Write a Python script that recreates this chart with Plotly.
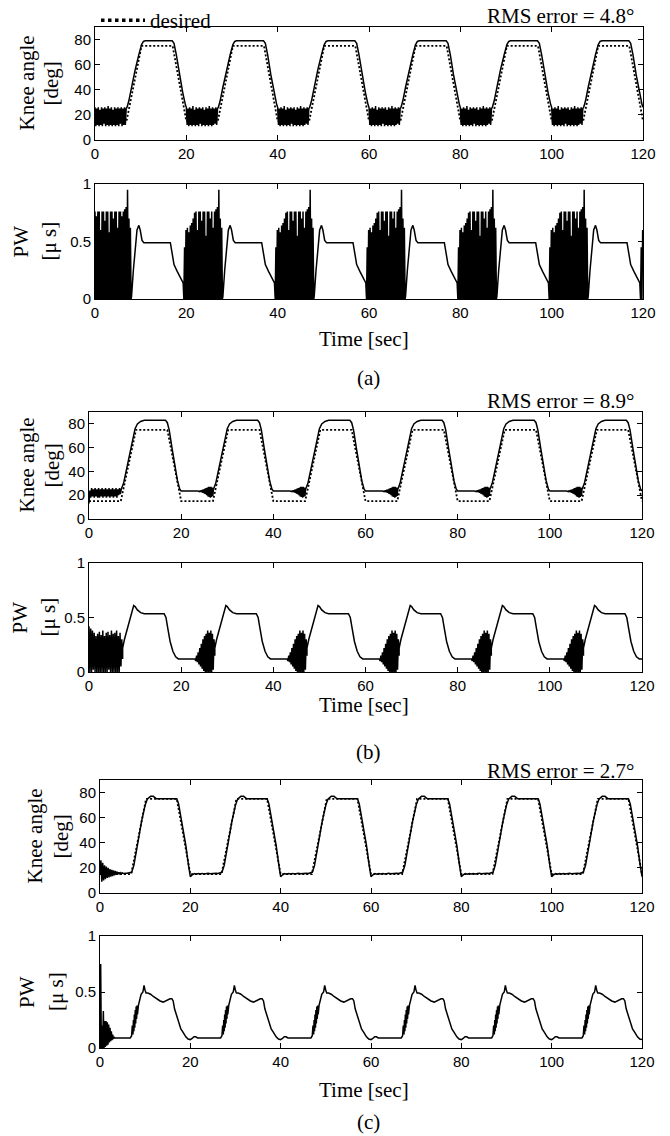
import numpy as np
import plotly.graph_objects as go

W, H = 670, 1136
PERIOD = 20.0
N_CYCLES = 6
T_END = 120.0

x_ticks = [0, 20, 40, 60, 80, 100, 120]
knee_ticks = [0, 20, 40, 60, 80]
pw_ticks = [0, 0.5, 1]
pw_ticktext = ["0", "0.5", "1"]

# ---- desired knee trajectory (one 20 s cycle, same in all three experiments)
desired_t = [0.0, 6.9, 10.2, 17.0, 20.0]
desired_v = [15, 15, 75, 75, 15]

# ---- (a) knee angle
a_knee_first_span = (0.0, 7.0)
a_knee_first = [26, 11, 25, 12, 26, 11, 24, 12, 26, 11, 25, 13, 26, 11, 25, 12, 27, 11, 25, 12,
                26, 11, 24, 12, 26, 11, 25, 12, 26, 11, 25, 13, 26, 11, 25, 12, 26, 12, 25, 26]
a_knee_rest_span = (0.0, 7.0)
a_knee_rest = [26, 12, 25, 11, 26, 12, 25, 11, 27, 12, 24, 11, 26, 12, 25, 11, 26, 13, 25, 11,
               26, 12, 24, 11, 26, 12, 25, 11, 27, 12, 25, 11, 26, 12, 25, 13, 26, 12, 25, 26]
a_knee_swing_t = [7.0, 7.4, 8.0, 8.8, 9.6, 10.2, 10.6, 11.0, 16.9, 17.3, 17.8, 18.5, 19.2, 19.8, 20.0]
a_knee_swing_v = [26, 31, 42, 56, 68, 76, 78.5, 79, 79, 77, 68, 52, 38, 28, 26]

# ---- (a) pulse width
a_pw_first_span = (0.0, 7.9)
a_pw_first = [0.76, 0.0, 0.72, 0.0, 0.76, 0.0, 0.76, 0.0, 0.6, 0.0, 0.76, 0.0, 0.76, 0.0, 0.68, 0.0,
              0.76, 0.0, 0.76, 0.0, 0.58, 0.0, 0.76, 0.0, 0.76, 0.0, 0.7, 0.0, 0.76, 0.0, 0.76, 0.0,
              0.62, 0.0, 0.76, 0.0, 0.76, 0.0, 0.72, 0.0, 0.76, 0.0, 0.78, 0.0, 0.8, 0.0, 0.95, 0.0,
              0.7, 0.0, 0.62, 0.0]
a_pw_rest_span = (-0.7, 7.9)
a_pw_rest = [0.14, 0.0, 0.45, 0.0, 0.6, 0.0, 0.62, 0.0, 0.58, 0.0, 0.64, 0.0, 0.66, 0.0, 0.7, 0.0,
             0.75, 0.0, 0.76, 0.0, 0.6, 0.0, 0.76, 0.0, 0.76, 0.0, 0.68, 0.0, 0.76, 0.0, 0.76, 0.0,
             0.55, 0.0, 0.76, 0.0, 0.76, 0.0, 0.7, 0.0, 0.76, 0.0, 0.62, 0.0, 0.76, 0.0, 0.78, 0.0,
             0.8, 0.0, 0.95, 0.0, 0.7, 0.0, 0.62, 0.0]
a_pw_swing_t = [8.0, 8.4, 8.8, 9.2, 9.6, 9.9, 10.3, 10.7, 16.5, 16.9, 17.3, 18.0, 18.75, 19.3]
a_pw_swing_v = [0.02, 0.25, 0.46, 0.6, 0.64, 0.6, 0.51, 0.49, 0.49, 0.40, 0.30, 0.24, 0.18, 0.14]

# ---- (b) knee angle
b_knee_first_span = (0.0, 7.0)
b_knee_first = [13, 24, 18, 26, 19, 25, 18, 26, 19, 25, 18, 26, 18, 25, 19, 26, 18, 25, 19, 26,
                18, 25, 19, 26, 18, 25, 19, 26, 18, 25, 19, 26, 18, 25, 20, 26, 21, 25]
b_knee_rest_span = (3.6, 7.0)
b_knee_rest = [23.5, 23.3, 23.7, 23.1, 23.9, 22.8, 24.2, 22.4, 24.6, 22.0, 25.0, 21.4, 25.6, 20.8,
               26.0, 20.0, 26.5, 19.0, 27.0, 18.5, 27.0, 18.0, 27.0, 18.5, 26.5, 19.5, 25.5]
b_knee_swing_t = [7.0, 7.5, 8.3, 9.2, 10.0, 10.5, 11.2, 12.0, 16.6, 17.0, 17.4, 18.0, 18.6, 19.2, 19.7, 20.0]
b_knee_swing_v = [25, 30, 45, 62, 76, 80, 82, 83, 83, 81, 75, 60, 45, 32, 25, 23.5]

# ---- (b) pulse width
b_pw_first_span = (0.0, 7.3)
b_pw_first = [0.42, 0.0, 0.4, 0.0, 0.38, 0.02, 0.36, 0.0, 0.33, 0.0, 0.35, 0.0, 0.37, 0.0, 0.34, 0.0,
              0.38, 0.0, 0.33, 0.0, 0.36, 0.0, 0.37, 0.02, 0.34, 0.0, 0.38, 0.0, 0.35, 0.0, 0.36, 0.0,
              0.38, 0.0, 0.33, 0.0, 0.36, 0.05, 0.3, 0.12]
b_pw_rest_span = (3.0, 7.3)
b_pw_rest = [0.12, 0.1, 0.15, 0.09, 0.18, 0.07, 0.22, 0.05, 0.26, 0.03, 0.3, 0.01, 0.33, 0.0, 0.35,
             0.0, 0.38, 0.0, 0.36, 0.0, 0.38, 0.0, 0.35, 0.02, 0.3, 0.15]
b_pw_swing_t = [7.3, 7.7, 8.3, 8.9, 9.4, 9.7, 10.0, 10.5, 11.2, 12.0, 16.3, 16.7, 17.1, 17.6, 18.2, 18.8, 19.4, 20.0]
b_pw_swing_v = [0.22, 0.3, 0.4, 0.5, 0.58, 0.61, 0.6, 0.57, 0.545, 0.535, 0.535, 0.5, 0.4, 0.28, 0.19, 0.14, 0.12, 0.12]

# ---- (c) knee angle
c_knee_first_span = (0.0, 7.0)
c_knee_first = [15, 26, 9, 24, 10, 22, 11, 21, 12, 20, 12.5, 19, 13, 18.5, 13.5, 18, 14, 17.5, 14.5, 17,
                15, 16.5, 15.2, 16.2, 15.5, 16, 15.5, 15.8, 15.6, 15.8, 15.7, 15.8, 15.8, 16, 16, 16.2]
c_knee_rest_span = (0.0, 7.0)
c_knee_rest = [13, 14.5, 15.5, 15, 15.5, 15.2, 15.6, 15.1, 15.5, 15.8, 15.3, 15.6, 15.5, 15.8, 15.6, 16, 16.2]
c_knee_swing_t = [7.0, 7.5, 8.3, 9.2, 10.0, 10.5, 11.2, 11.8, 12.5, 17.0, 17.4, 18.2, 19.0, 19.6, 20.0]
c_knee_swing_v = [16.5, 22, 40, 57, 70, 75, 77, 77, 75, 75, 71, 55, 38, 22, 13]

# ---- (c) pulse width
c_pw_first_span = (0.0, 3.4)
c_pw_first = [0.0, 0.75, 0.0, 0.2, 0.0, 0.33, 0.0, 0.24, 0.01, 0.24, 0.02, 0.23, 0.03, 0.21, 0.05,
              0.18, 0.06, 0.15, 0.07, 0.12, 0.08, 0.1, 0.09, 0.09]
c_pw_rest_span = (0.0, 1.6)
c_pw_rest = [0.075, 0.085, 0.1, 0.1, 0.09]
c_pw_swing_t = [6.7, 7.0, 7.15, 7.3, 7.4, 7.5, 7.6, 7.7, 7.8, 7.9, 8.0, 8.1, 8.2, 8.3, 8.5, 8.8, 9.1,
                9.5, 9.75, 9.95, 10.2, 10.6, 11.2, 11.8, 12.5, 13.3, 14.0, 14.8, 15.5, 15.9, 16.2,
                16.5, 16.9, 17.4, 17.9, 18.4, 19.0, 19.5, 20.0]
c_pw_swing_v = [0.09, 0.11, 0.2, 0.12, 0.25, 0.15, 0.3, 0.18, 0.34, 0.22, 0.37, 0.26, 0.38, 0.3, 0.38,
                0.42, 0.48, 0.5, 0.56, 0.52, 0.49, 0.49, 0.48, 0.46, 0.44, 0.42, 0.41, 0.43, 0.44,
                0.44, 0.42, 0.35, 0.3, 0.22, 0.17, 0.14, 0.1, 0.08, 0.075]

rms_labels = ["RMS error = 4.8°", "RMS error = 8.9°", "RMS error = 2.7°"]
panel_labels = ["(a)", "(b)", "(c)"]


def build(first_span, first, rest_span, rest, swing_t, swing_v):
    ts, vs = [], []
    for k in range(N_CYCLES + 1):
        off = k * PERIOD
        span, vals = (first_span, first) if k == 0 else (rest_span, rest)
        ts.extend(np.linspace(span[0], span[1], len(vals)) + off)
        vs.extend(vals)
        if k < N_CYCLES:
            ts.extend(np.array(swing_t) + off)
            vs.extend(swing_v)
    ts, vs = np.array(ts), np.array(vs, dtype=float)
    keep = ts <= T_END + 1e-9
    return ts[keep], vs[keep]


def build_desired():
    ts, vs = [], []
    for k in range(N_CYCLES):
        ts.extend(np.array(desired_t) + k * PERIOD)
        vs.extend(desired_v)
    return ts, vs


series = [
    build(a_knee_first_span, a_knee_first, a_knee_rest_span, a_knee_rest, a_knee_swing_t, a_knee_swing_v),
    build(a_pw_first_span, a_pw_first, a_pw_rest_span, a_pw_rest, a_pw_swing_t, a_pw_swing_v),
    build(b_knee_first_span, b_knee_first, b_knee_rest_span, b_knee_rest, b_knee_swing_t, b_knee_swing_v),
    build(b_pw_first_span, b_pw_first, b_pw_rest_span, b_pw_rest, b_pw_swing_t, b_pw_swing_v),
    build(c_knee_first_span, c_knee_first, c_knee_rest_span, c_knee_rest, c_knee_swing_t, c_knee_swing_v),
    build(c_pw_first_span, c_pw_first, c_pw_rest_span, c_pw_rest, c_pw_swing_t, c_pw_swing_v),
]

# layout geometry in pixels: (left, right, top, bottom)
boxes = [
    (95, 643, 27, 140), (95, 643, 184, 299),
    (89, 642, 412, 519), (89, 642, 563, 672),
    (100, 642, 780, 893), (100, 642, 936, 1048),
]

SERIF = "Liberation Serif, Times New Roman, serif"
SANS = "Liberation Sans, Arial, sans-serif"

fig = go.Figure()
dtx, dty = build_desired()
for i, (ts, vs) in enumerate(series):
    ax = "" if i == 0 else str(i + 1)
    if i % 2 == 0:
        fig.add_trace(go.Scatter(x=dtx, y=dty, mode="lines", xaxis="x" + ax, yaxis="y" + ax,
                                 line=dict(color="black", width=1.8, dash="2px,2px"),
                                 showlegend=False, hoverinfo="skip"))
    fig.add_trace(go.Scatter(x=ts, y=vs, mode="lines", xaxis="x" + ax, yaxis="y" + ax,
                             line=dict(color="black", width=1.5), showlegend=False))

# legend entry for the desired trajectory
fig.add_trace(go.Scatter(x=[None], y=[None], mode="lines", name="desired",
                         line=dict(color="black", width=3.5, dash="dot"), showlegend=True))

layout = dict(width=W, height=H, margin=dict(l=0, r=0, t=0, b=0, pad=0, autoexpand=False),
              autosize=False,
              paper_bgcolor="white", plot_bgcolor="white",
              showlegend=True,
              legend=dict(x=96 / W, y=1.0, xanchor="left", yanchor="top", itemwidth=44,
                          bgcolor="rgba(0,0,0,0)", font=dict(family=SERIF, size=21, color="black"),
                          tracegroupgap=0, borderwidth=0))

axis_common = dict(showline=True, linecolor="black", linewidth=1, mirror="ticks", ticks="inside",
                   ticklen=5, tickcolor="black", showgrid=False, zeroline=False,
                   tickfont=dict(family=SANS, size=15, color="black"))

annotations = []
for i, (l, r, t, b) in enumerate(boxes):
    ax = "" if i == 0 else str(i + 1)
    layout["xaxis" + ax] = dict(axis_common, domain=[l / W, r / W], anchor="y" + ax,
                                range=[0, 120], tickvals=x_ticks)
    if i % 2 == 0:
        layout["yaxis" + ax] = dict(axis_common, domain=[1 - b / H, 1 - t / H], anchor="x" + ax,
                                    range=[0, 90], tickvals=knee_ticks)
    else:
        layout["yaxis" + ax] = dict(axis_common, domain=[1 - b / H, 1 - t / H], anchor="x" + ax,
                                    range=[0, 1], tickvals=pw_ticks, ticktext=pw_ticktext)

# y-axis title positions (x centres of the two rotated lines)
ylab_x = [(27, 51), (20, 48), (26, 51), (19, 47), (34, 60), (27, 56)]
for i, (l, r, t, b) in enumerate(boxes):
    yc = 1 - (t + b) / 2 / H
    first, second = ("Knee angle", "[deg]") if i % 2 == 0 else ("PW", "[μ s]")
    for txt, xp in zip((first, second), ylab_x[i]):
        annotations.append(dict(text=txt, x=xp / W, y=yc, xref="paper", yref="paper",
                                xanchor="center", yanchor="middle", textangle=-90, showarrow=False,
                                font=dict(family=SERIF, size=21, color="black")))

rms_y = [16, 401, 771]
for lab, yp in zip(rms_labels, rms_y):
    annotations.append(dict(text=lab, x=636 / W, y=1 - yp / H, xref="paper", yref="paper",
                            xanchor="right", yanchor="middle", showarrow=False,
                            font=dict(family=SERIF, size=21, color="black")))

time_y = [339, 705, 1090]
panel_y = [378, 752, 1122]
for lab, ty, py in zip(panel_labels, time_y, panel_y):
    annotations.append(dict(text="Time [sec]", x=364 / W, y=1 - ty / H, xref="paper", yref="paper",
                            xanchor="center", yanchor="middle", showarrow=False,
                            font=dict(family=SERIF, size=21, color="black")))
    annotations.append(dict(text=lab, x=368 / W, y=1 - py / H, xref="paper", yref="paper",
                            xanchor="center", yanchor="middle", showarrow=False,
                            font=dict(family=SERIF, size=21, color="black")))

layout["annotations"] = annotations
fig.update_layout(**layout)
fig.write_html("out.html", config={"displayModeBar": False},
               post_script="document.body.style.margin='0';")
